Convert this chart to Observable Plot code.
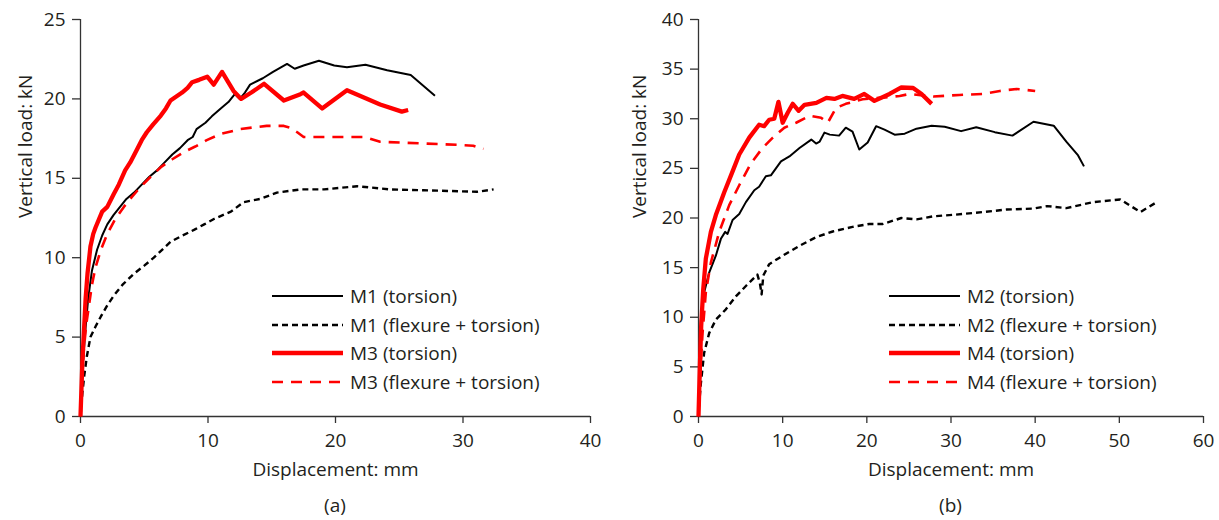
<!DOCTYPE html>
<html>
<head>
<meta charset="utf-8">
<script src="https://cdn.jsdelivr.net/npm/d3@7"></script>
<script src="https://cdn.jsdelivr.net/npm/@observablehq/plot@0.6"></script>
<style>
  html, body { margin: 0; padding: 0; background: #fff; }
  body { font-family: "Open Sans", "Noto Sans", sans-serif; color: #231f20; }
  #wrap { display: flex; width: 1219px; }
  .panel { position: relative; width: 609px; }
  .panel + .panel { width: 610px; }
  .legend { position: absolute; font-size: 19px; }
  .legend .row { position: absolute; left: 0; height: 28px; line-height: 28px; white-space: nowrap; display: flex; align-items: center; }
  .legend svg { display: block; }
  .caption { font-size: 19px; text-align: center; line-height: 28px; margin-top: 6px; }
</style>
</head>
<body>
<div id="wrap"></div>
<script>
// ---------- data (displacement mm, vertical load kN) ----------
const xTicksA = [0, 10, 20, 30, 40];
const yTicksA = [0, 5, 10, 15, 20, 25];
const xTicksB = [0, 10, 20, 30, 40, 50, 60];
const yTicksB = [0, 5, 10, 15, 20, 25, 30, 35, 40];

const m1Torsion = [[0,0],[0.2,3.5],[0.4,5.6],[0.6,7.4],[0.9,9.2],[1.3,10.5],[1.7,11.4],[2.1,12.1],[2.6,12.7],[3.1,13.2],[3.6,13.7],[4.2,14.1],[4.8,14.6],[5.4,15.1],[6.0,15.5],[6.6,16.0],[7.2,16.5],[7.8,16.9],[8.4,17.4],[8.8,17.6],[9.1,18.1],[9.8,18.5],[10.3,18.9],[11.0,19.4],[11.6,19.8],[12.1,20.3],[12.5,20.0],[12.9,20.4],[13.3,20.9],[14.3,21.3],[15.1,21.7],[16.2,22.2],[16.8,21.9],[17.5,22.1],[18.7,22.4],[19.9,22.1],[20.9,22.0],[22.35,22.15],[24.05,21.8],[25.9,21.5],[27.8,20.2]];
const m1Flexure = [[0,0],[0.15,1.5],[0.3,2.6],[0.5,3.8],[0.78,5.0],[1.2,5.7],[1.6,6.3],[2.1,7.0],[2.6,7.6],[3.3,8.3],[4.2,9.0],[5.0,9.5],[5.75,10.0],[6.4,10.5],[7.06,11.0],[8.0,11.4],[8.9,11.75],[9.7,12.1],[10.5,12.45],[11.8,12.9],[12.8,13.5],[14.1,13.7],[15.4,14.1],[17.25,14.3],[19.1,14.3],[21.7,14.5],[24.3,14.3],[26.9,14.25],[29.0,14.2],[31.1,14.15],[32.4,14.3]];
const m3Torsion = [[0,0],[0.15,3.5],[0.26,5.2],[0.4,7.4],[0.55,9.0],[0.78,10.7],[1.0,11.5],[1.18,11.9],[1.7,12.9],[2.1,13.2],[2.6,14.0],[3.0,14.6],[3.5,15.5],[3.9,16.0],[4.45,16.85],[4.8,17.4],[5.2,17.9],[5.7,18.4],[6.3,18.95],[6.7,19.4],[7.06,19.9],[7.6,20.2],[7.97,20.4],[8.4,20.7],[8.76,21.05],[9.3,21.2],[9.94,21.4],[10.45,20.9],[11.1,21.7],[12.0,20.5],[12.6,20.0],[13.4,20.4],[14.4,20.95],[15.95,19.9],[17.25,20.3],[17.5,20.4],[18.95,19.4],[20.9,20.55],[22.5,20.0],[23.5,19.65],[25.2,19.2],[25.7,19.3]];
const m3Flexure = [[0,0],[0.12,2.5],[0.26,4.2],[0.45,5.8],[0.65,6.9],[0.9,8.3],[1.18,9.4],[1.6,10.5],[2.1,11.5],[2.7,12.4],[3.4,13.2],[4.0,13.8],[4.7,14.45],[5.5,15.1],[6.3,15.7],[7.2,16.2],[8.1,16.65],[9.0,17.0],[9.9,17.4],[11.0,17.8],[12.55,18.1],[13.5,18.2],[14.6,18.3],[15.95,18.3],[16.4,18.2],[17.0,17.9],[17.5,17.6],[19.3,17.6],[21.4,17.6],[22.3,17.6],[23.5,17.3],[26.7,17.2],[29.8,17.1],[30.8,17.05],[31.6,16.85]];

const m2Torsion = [[0,0],[0.1,5.0],[0.28,9.76],[0.67,12.5],[1.27,14.5],[2.06,16.2],[2.66,17.9],[3.17,18.6],[3.45,18.4],[4.05,19.8],[4.84,20.4],[5.63,21.6],[6.63,22.8],[7.2,23.15],[8.0,24.2],[8.6,24.3],[9.2,25.0],[9.8,25.7],[10.8,26.2],[12.0,27.05],[13.4,27.9],[13.97,27.5],[14.4,27.7],[14.96,28.6],[15.6,28.4],[16.7,28.3],[17.5,29.1],[18.3,28.7],[19.1,26.9],[20.1,27.6],[21.1,29.25],[22.1,28.9],[23.3,28.4],[24.5,28.5],[25.9,29.0],[27.7,29.3],[29.25,29.2],[31.2,28.75],[33.0,29.15],[35.2,28.65],[37.3,28.3],[39.8,29.7],[42.2,29.3],[43.7,27.7],[45.1,26.3],[45.8,25.2]];
const m2Flexure = [[0,0],[0.1,1.5],[0.28,3.3],[0.67,6.4],[1.27,8.4],[2.06,9.76],[3.25,10.8],[4.44,12.1],[5.63,13.15],[7.0,14.3],[7.3,13.4],[7.5,12.3],[7.7,14.2],[8.4,15.35],[10.0,16.2],[12.0,17.2],[13.97,18.07],[15.95,18.64],[18.3,19.1],[20.3,19.4],[21.9,19.4],[24.1,20.0],[25.9,19.86],[27.9,20.17],[30.6,20.34],[33.8,20.6],[36.6,20.85],[39.8,20.95],[41.4,21.2],[43.7,21.0],[46.9,21.6],[50.1,21.87],[52.5,20.6],[54.45,21.6]];
const m4Torsion = [[0,0],[0.16,5.0],[0.32,9.1],[0.56,12.8],[0.87,15.9],[1.47,18.6],[2.06,20.3],[3.06,22.6],[4.05,24.7],[4.84,26.4],[6.03,28.1],[7.2,29.4],[7.8,29.25],[8.4,29.9],[9.0,30.0],[9.5,31.7],[10.0,29.6],[10.6,30.6],[11.2,31.5],[11.9,30.8],[12.6,31.4],[14.0,31.6],[15.2,32.1],[16.15,32.0],[17.1,32.3],[18.5,32.0],[19.7,32.5],[20.9,31.8],[22.7,32.5],[24.1,33.15],[25.5,33.1],[26.5,32.5],[27.7,31.5]];
const m4Flexure = [[0,0],[0.2,4.3],[0.48,8.4],[0.87,12.5],[1.47,15.5],[2.46,18.6],[3.65,21.3],[4.84,23.3],[6.23,25.5],[7.6,27.05],[8.8,28.07],[10.2,29.1],[11.6,29.6],[13.2,30.3],[14.56,30.1],[15.36,29.6],[16.35,31.1],[17.5,31.5],[19.5,31.97],[21.5,32.1],[23.9,32.3],[25.1,32.5],[27.9,32.24],[31.0,32.4],[33.8,32.5],[35.8,32.8],[37.8,33.0],[40.0,32.8]];

const seriesA = [
  {name: "M1 (torsion)", data: m1Torsion, kind: "bs"},
  {name: "M1 (flexure + torsion)", data: m1Flexure, kind: "bd"},
  {name: "M3 (torsion)", data: m3Torsion, kind: "rs"},
  {name: "M3 (flexure + torsion)", data: m3Flexure, kind: "rd"}
];
const seriesB = [
  {name: "M2 (torsion)", data: m2Torsion, kind: "bs"},
  {name: "M2 (flexure + torsion)", data: m2Flexure, kind: "bd"},
  {name: "M4 (torsion)", data: m4Torsion, kind: "rs"},
  {name: "M4 (flexure + torsion)", data: m4Flexure, kind: "rd"}
];

// ---------- styles ----------
const styles = {
  bs: {stroke: "#000000", strokeWidth: 2},
  bd: {stroke: "#000000", strokeWidth: 2.4, strokeDasharray: "6,4"},
  rs: {stroke: "#ff0000", strokeWidth: 4.3},
  rd: {stroke: "#ff0000", strokeWidth: 2.6, strokeDasharray: "11,8"}
};
const axisColor = "#333";
const textColor = "#231f20";

function makePanel(cfg) {
  const H = 485, mTop = 19, mBottom = H - 416;
  const marks = [
    Plot.ruleX([0], {stroke: axisColor, strokeWidth: 1.3}),
    Plot.ruleY([0], {stroke: axisColor, strokeWidth: 1.3}),
    Plot.axisX(cfg.xTicks, {tickSize: 7, tickPadding: 10, stroke: axisColor, strokeWidth: 1.3, fill: textColor, label: null}),
    Plot.axisY(cfg.yTicks, {tickSize: 8, tickPadding: 7, stroke: axisColor, strokeWidth: 1.3, fill: textColor, label: null}),
    Plot.text(["Displacement: mm"], {text: d => d, frameAnchor: "bottom", dy: 59, fill: textColor, fontSize: 19}),
    Plot.text(["Vertical load: kN"], {text: d => d, frameAnchor: "left", rotate: -90, dx: cfg.yLabelDx, fill: textColor, fontSize: 19})
  ];
  // curves drawn on top of the axes
  for (const s of cfg.series) {
    marks.push(Plot.line(s.data, {x: d => d[0], y: d => d[1], ...styles[s.kind], strokeLinejoin: "round", strokeLinecap: "butt"}));
  }
  return Plot.plot({
    width: cfg.width,
    height: H,
    marginTop: mTop,
    marginBottom: mBottom,
    marginLeft: cfg.marginLeft,
    marginRight: cfg.marginRight,
    x: {domain: [0, cfg.xTicks[cfg.xTicks.length - 1]]},
    y: {domain: [0, cfg.yTicks[cfg.yTicks.length - 1]]},
    style: {fontSize: "19px", fontFamily: "'Open Sans', 'Noto Sans', sans-serif", color: textColor, background: "white", overflow: "visible"},
    marks
  });
}

function makeLegend(series, left, lineW, textLeft) {
  const lg = document.createElement("div");
  lg.className = "legend";
  lg.style.left = left + "px";
  lg.style.top = "0px";
  const rowsY = [296, 324.5, 353.3, 381.8];
  series.forEach((s, i) => {
    const st = styles[s.kind];
    const row = document.createElement("div");
    row.className = "row";
    row.style.top = (rowsY[i] - 14) + "px";
    const ns = "http://www.w3.org/2000/svg";
    const svg = document.createElementNS(ns, "svg");
    svg.setAttribute("width", lineW);
    svg.setAttribute("height", 10);
    const ln = document.createElementNS(ns, "line");
    ln.setAttribute("x1", 0); ln.setAttribute("x2", lineW);
    ln.setAttribute("y1", 5); ln.setAttribute("y2", 5);
    ln.setAttribute("stroke", st.stroke);
    ln.setAttribute("stroke-width", st.strokeWidth);
    if (st.strokeDasharray) ln.setAttribute("stroke-dasharray", st.strokeDasharray);
    svg.appendChild(ln);
    row.appendChild(svg);
    const t = document.createElement("span");
    t.textContent = s.name;
    t.style.marginLeft = (textLeft - lineW) + "px";
    row.appendChild(t);
    lg.appendChild(row);
  });
  return lg;
}

const wrap = document.getElementById("wrap");
const panels = [
  {series: seriesA, xTicks: xTicksA, yTicks: yTicksA, width: 609, marginLeft: 80, marginRight: 19, yLabelDx: -55, legendLeft: 272, caption: "(a)"},
  {series: seriesB, xTicks: xTicksB, yTicks: yTicksB, width: 610, marginLeft: 89, marginRight: 16, yLabelDx: -59, legendLeft: 280, caption: "(b)"}
];
for (const p of panels) {
  const div = document.createElement("div");
  div.className = "panel";
  div.appendChild(makePanel(p));
  div.appendChild(makeLegend(p.series, p.legendLeft, 71, 78));
  const cap = document.createElement("div");
  cap.className = "caption";
  cap.style.marginLeft = p.marginLeft + "px";
  cap.style.marginRight = p.marginRight + "px";
  cap.textContent = p.caption;
  div.appendChild(cap);
  wrap.appendChild(div);
}
</script>
</body>
</html>
